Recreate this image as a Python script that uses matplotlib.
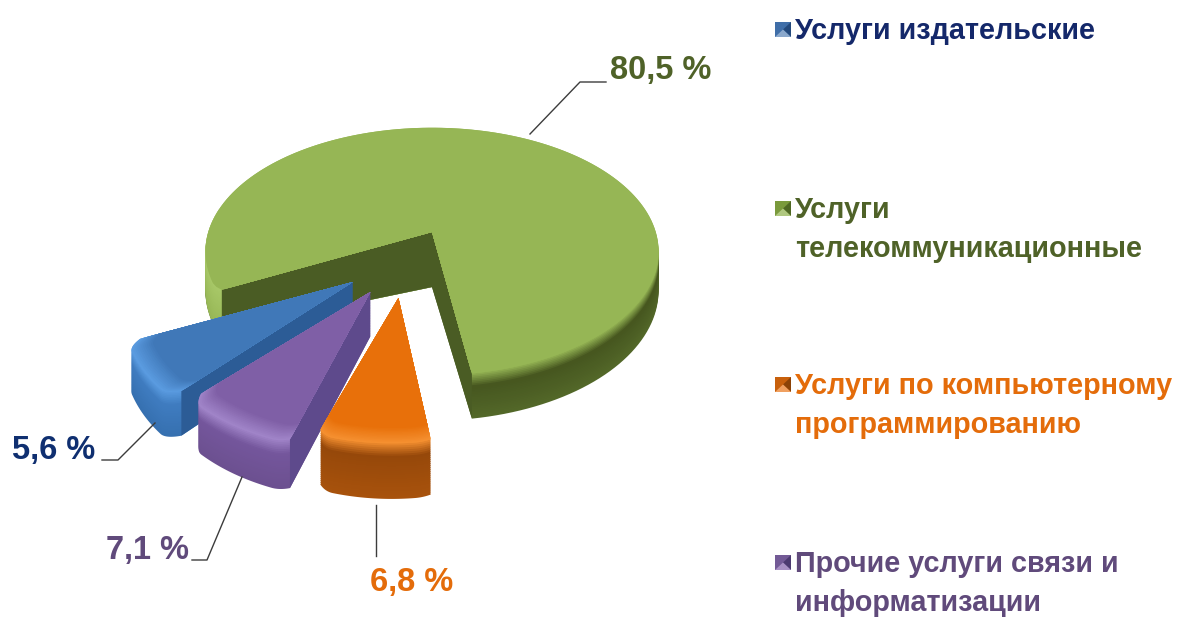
import numpy as np
import matplotlib
matplotlib.use('Agg')
import matplotlib.pyplot as plt
from matplotlib.patches import Polygon
from matplotlib.colors import to_rgb

# data
categories = ['Услуги издательские', 'Услуги телекоммуникационные',
              'Услуги по компьютерному программированию', 'Прочие услуги связи и информатизации']
values = [5.6, 80.5, 6.8, 7.1]
legend_lines = [['Услуги издательские'],
                ['Услуги', 'телекоммуникационные'],
                ['Услуги по компьютерному', 'программированию'],
                ['Прочие услуги связи и', 'информатизации']]

FONT = ['Liberation Sans']
text_colors = ['#14286a', '#4f6228', '#e46c0a', '#604a7b']
value_colors = ['#0f2f70', '#4f6228', '#e46c0a', '#604a7b']

# fake perspective of the 3d pie, in pixels
CX, CY, A = 432, 232, 226

def project(u, v, z, persp):
    P, B = persp
    w = 1 - P * v
    return CX + A * u / w, CY + (B * v + z) / w

# per slice look: apex, start angle, angle stretch, radius, depth, corner rounding, colours
slices = [
    dict(val=values[0], apex=(-0.326, 0.372), start=131, gain=1.2, r=0.91, h=36, k=1.0, walls=[1], tp=(0.05, 0.05),
         persp=(0.19, 125), top='#4078b8', bevel='#5a9be0', wall='#2c5c96',
         side=[(0, '#5a9be0'), (0.3, '#3f7cc0'), (1, '#3670b0')]),
    dict(val=values[3], apex=(-0.25, 0.44), start=105.5, gain=1.1, r=0.87, h=37, k=1.1, walls=[1], tp=(0.02, 0.05),
         persp=(0.19, 125), top='#7f5fa6', bevel='#a084c8', wall='#5e4a8c',
         side=[(0, '#a084c8'), (0.3, '#74569c'), (1, '#6c5090')]),
    dict(val=values[2], apex=(-0.135, 0.48), start=80.5, gain=1.14, r=0.80, h=42, k=1.0, walls=[], tp=(0.01, 0.03),
         persp=(0.19, 125), top='#e8700a', bevel='#f59030', wall='#8c4608',
         side=[(0, '#f59030'), (0.25, '#96480a'), (1, '#a8520c')]),
]
green = dict(val=values[1], apex=(0, 0), start=153, gain=0.995, r=0.99, h=38, k=1.45, walls=[1, -1], tp=(0.02, 0.0),
             persp=(0.16, 122), top='#96b655', bevel='#96b655', wall='#4a5c24',
             side=[(0, '#96b655'), (0.3, '#46561f'), (1, '#536829')])
# left part of the green side catches the light
green_left = dict(green, sweep=38, tp=(0.02, 0.0),
                  side=[(0, '#a8c868'), (1, '#96b655')])

def mix(stops, t):
    pos = [s[0] for s in stops]
    rgb = np.array([to_rgb(s[1]) for s in stops])
    return [np.interp(t, pos, rgb[:, i]) for i in range(3)]

def outline(s, rscale=1.0, z=0.0):
    sweep = s.get('sweep', s['val'] * 3.6 * s['gain'])
    d = np.linspace(0, sweep, 160)
    # pull the rim in a little near the ends so the corners look rounded
    r = s['r'] * rscale * (1 - s['tp'][0] * (1 - np.clip(d / 4.0, 0, 1)) ** 2
                           - s['tp'][1] * (1 - np.clip((sweep - d) / 4.0, 0, 1)) ** 2)
    a = np.radians(s['start'] + d)
    u = np.r_[s['apex'][0], s['apex'][0] + r * np.cos(a)]
    v = np.r_[s['apex'][1], s['apex'][1] + r * np.sin(a)]
    x, y = project(u, v, np.r_[z * s['k'], np.full(160, z)], s['persp'])
    return np.c_[x, y]

def draw_side(ax, s):
    # stacked from the bottom up
    for t in np.linspace(1, 0, 28):
        ax.add_patch(Polygon(outline(s, 1.0, s['h'] * t), fc=mix(s['side'], t), lw=0))

def draw_face(ax, s):
    # cut walls that face the viewer
    top, low = outline(s), outline(s, 1.0, s['h'])
    for i in s['walls']:
        ax.add_patch(Polygon([top[0], top[i], low[i], low[0]], fc=s['wall'], lw=0))
    # top with a soft bevel at the rim
    bev = [(0, s['top']), (1, s['bevel'])]
    for t in np.linspace(1, 0, 12):
        ax.add_patch(Polygon(outline(s, 1 - 0.09 * (1 - t)), fc=mix(bev, t), lw=0))

fig = plt.figure(figsize=(11.79, 6.17), dpi=100)
ax = fig.add_axes([0, 0, 1, 1])
ax.set_xlim(0, 1179)
ax.set_ylim(617, 0)
ax.axis('off')

draw_side(ax, green)
draw_side(ax, green_left)
draw_face(ax, green)
for s in slices:
    draw_side(ax, s)
    draw_face(ax, s)

# leader lines
leaders = [([530, 580, 606], [134, 82, 82]), ([155, 118, 102], [423, 460, 460]),
           ([242, 207, 192], [477, 560, 560]), ([376, 376], [505, 556])]
for lx, ly in leaders:
    ax.plot(lx, ly, color='#3c3c3c', lw=1.0)

# value labels
val_pos = [(54, 451), (661, 70), (412, 583), (147, 550)]
for val, col, (tx, ty) in zip(values, value_colors, val_pos):
    ax.text(tx, ty, f'{val:.1f} %'.replace('.', ','), color=col, fontsize=23.5, family=FONT,
            fontweight='bold', ha='center', va='center')

# legend
leg_y = [31, 210, 386, 564]
key_cols = [('#23497c', '#3f6ea8', '#8aa8cc'), ('#4f6824', '#7a9a3c', '#b0c880'),
            ('#8c4206', '#c8600c', '#f0a060'), ('#4c3a70', '#735a96', '#a890c4')]
for lines, col, y0, (dk, md, lt) in zip(legend_lines, text_colors, leg_y, key_cols):
    kx0, kx1, ky0, ky1 = 775, 791, y0 - 9, y0 + 6
    mx, my = (kx0 + kx1) / 2, (ky0 + ky1) / 2
    ax.add_patch(Polygon([(kx0, ky0), (kx1, ky0), (kx1, ky1), (kx0, ky1)], fc=md, lw=0))
    ax.add_patch(Polygon([(kx1, ky0), (mx, my), (kx1, ky1)], fc=dk, lw=0))
    ax.add_patch(Polygon([(kx0, ky1), (mx, my), (kx1, ky1)], fc=lt, lw=0))
    for i, line in enumerate(lines):
        ax.text(795, y0 + i * 39, line, color=col, fontsize=20.7, family=FONT,
                fontweight='bold', ha='left', va='center')

plt.savefig('out.png', dpi=100)
